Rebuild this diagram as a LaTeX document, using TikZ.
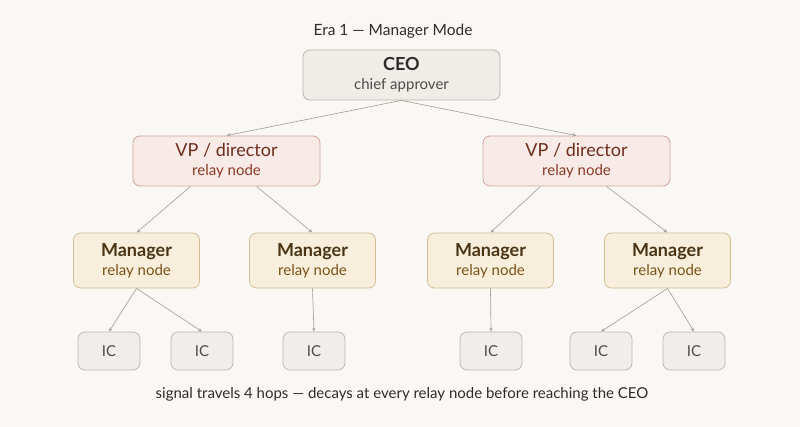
\documentclass[tikz,border=0pt]{standalone}
\usepackage{fontspec}
\setmainfont{Lato}
\usetikzlibrary{arrows.meta}
\definecolor{bg}{HTML}{F9F8F5}
\definecolor{ceofill}{HTML}{EEEDE7}
\definecolor{ceodraw}{HTML}{B8B5AC}
\definecolor{vpfill}{HTML}{F8EAE6}
\definecolor{vpdraw}{HTML}{CFA69C}
\definecolor{vptext}{HTML}{8A3A26}
\definecolor{mgfill}{HTML}{F7EEDC}
\definecolor{mgdraw}{HTML}{D4BE94}
\definecolor{mgtext}{HTML}{4A3414}
\definecolor{mgsub}{HTML}{7A5218}
\definecolor{icfill}{HTML}{EFEEEA}
\definecolor{icdraw}{HTML}{BDBAB3}
\definecolor{ink}{HTML}{2E2C28}
\definecolor{edge}{HTML}{A9A6A0}
\tikzset{
  box/.style={rounded corners=7pt, line width=0.8pt, align=center, inner sep=0pt, font=\fontsize{15}{18}\selectfont},
  ceobox/.style={box, fill=ceofill, draw=ceodraw, minimum width=197pt, minimum height=50pt},
  vpbox/.style={box, fill=vpfill, draw=vpdraw, minimum width=187pt, minimum height=50pt},
  mgbox/.style={box, fill=mgfill, draw=mgdraw, minimum width=126pt, minimum height=55pt},
  icbox/.style={box, fill=icfill, draw=icdraw, minimum width=62pt, minimum height=38pt, text=ink!85},
  conn/.style={draw=edge, line width=0.7pt, -{Stealth[length=4pt,width=3.5pt]}},
}
\begin{document}
\begin{tikzpicture}[x=1pt,y=-1pt]
\fill[bg] (0,0) rectangle (800,427);
\useasboundingbox (0,0) rectangle (800,427);
\node[text=ink, font=\fontsize{15.5}{17}\selectfont] (title) at (393,31) {Era 1 — Manager Mode};
\node[ceobox] (ceo) at (401.5,75) {{\fontsize{18}{20}\selectfont\bfseries\color{ink}CEO}\\[1pt]{\color{ink!85}chief approver}};
\node[vpbox] (vpL) at (226.5,161) {{\fontsize{18}{20}\selectfont\color{vptext!80!black}VP / director}\\[1pt]{\color{vptext}relay node}};
\node[vpbox] (vpR) at (576.5,161) {{\fontsize{18}{20}\selectfont\color{vptext!80!black}VP / director}\\[1pt]{\color{vptext}relay node}};
\foreach \n/\x in {m1/136.5,m2/312.5,m3/490.5,m4/667.5}{
  \node[mgbox] (\n) at (\x,260.5) {{\fontsize{18}{20}\selectfont\bfseries\color{mgtext}Manager}\\[1pt]{\color{mgsub}relay node}};
}
\foreach \n/\x in {i1/109,i2/202,i3/314,i4/491,i5/601,i6/694}{
  \node[icbox] (\n) at (\x,351) {IC};
}
\node[text=ink, font=\fontsize{15}{17}\selectfont] (foot) at (402,394) {signal travels 4 hops — decays at every relay node before reaching the CEO};
\draw[conn] (ceo.south) -- (vpL.north);
\draw[conn] (ceo.south) -- (vpR.north);
\draw[conn] ([xshift=-36pt]vpL.south) -- (m1.north);
\draw[conn] ([xshift=30pt]vpL.south) -- (m2.north);
\draw[conn] ([xshift=-36pt]vpR.south) -- (m3.north);
\draw[conn] ([xshift=30pt]vpR.south) -- (m4.north);
\draw[conn] (m1.south) -- (i1.north);
\draw[conn] (m1.south) -- (i2.north);
\draw[conn] (m2.south) -- (i3.north);
\draw[conn] (m3.south) -- (i4.north);
\draw[conn] (m4.south) -- (i5.north);
\draw[conn] (m4.south) -- (i6.north);
\end{tikzpicture}
\end{document}
